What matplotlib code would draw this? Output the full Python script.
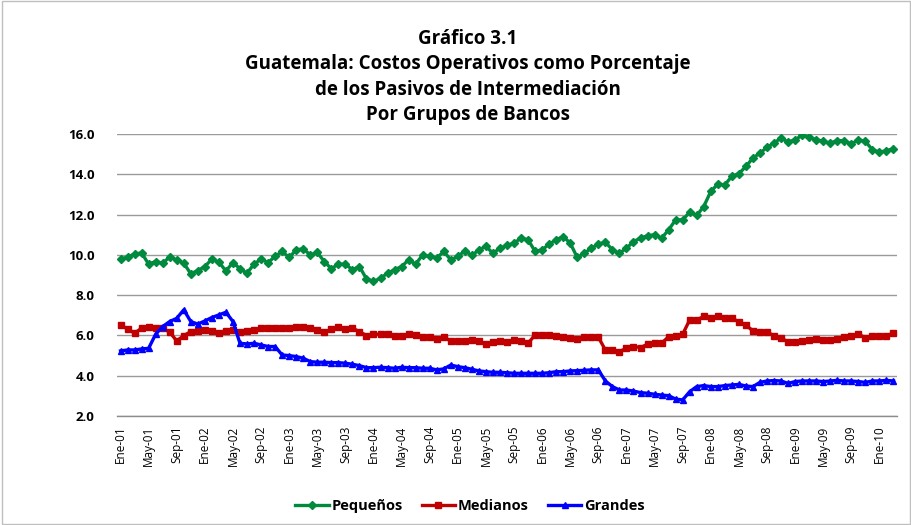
import matplotlib
matplotlib.use("Agg")
import matplotlib.pyplot as plt
from matplotlib.patches import Rectangle

plt.rcParams['font.family'] = ['Open Sans', 'DejaVu Sans']

# ---- data ----
meses = ["Ene", "Feb", "Mar", "Abr", "May", "Jun", "Jul", "Ago", "Sep", "Oct", "Nov", "Dic"]
years = list(range(1, 11))
n_points = 111  # Ene-01 .. Mar-10
periodos = [f"{meses[m]}-{y:02d}" for y in years for m in range(12)][:n_points]

pequenos = [9.79, 9.89, 10.04, 10.10, 9.54, 9.67, 9.59, 9.89, 9.75, 9.59,
            9.06, 9.22, 9.42, 9.79, 9.64, 9.20, 9.62, 9.31, 9.09, 9.54,
            9.79, 9.62, 9.92, 10.17, 9.87, 10.25, 10.30, 10.00, 10.12, 9.67,
            9.31, 9.54, 9.54, 9.26, 9.42, 8.81, 8.68, 8.84, 9.09, 9.26,
            9.42, 9.75, 9.54, 10.00, 9.92, 9.84, 10.17, 9.75, 9.92, 10.20,
            9.97, 10.25, 10.42, 10.08, 10.33, 10.47, 10.58, 10.83, 10.75, 10.17,
            10.25, 10.53, 10.75, 10.91, 10.58, 9.87, 10.08, 10.33, 10.53, 10.63,
            10.25, 10.08, 10.33, 10.66, 10.83, 10.95, 11.00, 10.83, 11.24, 11.74,
            11.74, 12.12, 11.96, 12.40, 13.15, 13.51, 13.48, 13.90, 14.03, 14.39,
            14.81, 15.05, 15.34, 15.55, 15.80, 15.60, 15.72, 15.93, 15.83, 15.72,
            15.63, 15.55, 15.67, 15.67, 15.50, 15.72, 15.63, 15.22, 15.10, 15.17,
            15.27]

medianos = [6.52, 6.32, 6.11, 6.36, 6.41, 6.39, 6.36, 6.16, 5.73, 5.99,
            6.19, 6.22, 6.27, 6.24, 6.14, 6.22, 6.27, 6.19, 6.22, 6.27,
            6.36, 6.39, 6.39, 6.36, 6.36, 6.44, 6.41, 6.36, 6.27, 6.16,
            6.31, 6.41, 6.31, 6.36, 6.19, 5.99, 6.06, 6.06, 6.06, 5.99,
            5.99, 6.06, 6.03, 5.91, 5.94, 5.83, 5.91, 5.73, 5.73, 5.73,
            5.78, 5.73, 5.58, 5.69, 5.73, 5.66, 5.78, 5.73, 5.61, 6.03,
            6.03, 6.03, 5.99, 5.94, 5.86, 5.81, 5.91, 5.91, 5.91, 5.28,
            5.28, 5.20, 5.36, 5.45, 5.40, 5.56, 5.61, 5.61, 5.94, 5.99,
            6.06, 6.77, 6.77, 6.94, 6.89, 6.94, 6.89, 6.85, 6.68, 6.52,
            6.22, 6.19, 6.16, 5.99, 5.89, 5.66, 5.66, 5.73, 5.78, 5.83,
            5.78, 5.78, 5.83, 5.94, 5.99, 6.06, 5.89, 5.98, 5.99, 5.99,
            6.11]

grandes = [5.23, 5.28, 5.28, 5.33, 5.36, 6.06, 6.44, 6.69, 6.85, 7.27,
           6.69, 6.56, 6.72, 6.89, 7.02, 7.15, 6.69, 5.61, 5.58, 5.61,
           5.53, 5.45, 5.45, 5.03, 5.00, 4.95, 4.87, 4.70, 4.67, 4.67,
           4.65, 4.65, 4.62, 4.57, 4.50, 4.40, 4.40, 4.42, 4.40, 4.37,
           4.42, 4.40, 4.40, 4.37, 4.37, 4.29, 4.34, 4.53, 4.45, 4.40,
           4.32, 4.24, 4.20, 4.17, 4.17, 4.15, 4.12, 4.12, 4.12, 4.12,
           4.12, 4.15, 4.20, 4.20, 4.24, 4.25, 4.27, 4.29, 4.29, 3.74,
           3.46, 3.29, 3.29, 3.24, 3.16, 3.13, 3.08, 3.04, 3.01, 2.84,
           2.80, 3.21, 3.46, 3.51, 3.46, 3.46, 3.51, 3.54, 3.57, 3.49,
           3.46, 3.67, 3.74, 3.76, 3.74, 3.62, 3.71, 3.74, 3.74, 3.74,
           3.71, 3.74, 3.77, 3.74, 3.74, 3.71, 3.67, 3.74, 3.74, 3.77,
           3.74]

y_ticks = [2.0, 4.0, 6.0, 8.0, 10.0, 12.0, 14.0, 16.0]
titulo = "Gráfico 3.1\nGuatemala: Costos Operativos como Porcentaje\nde los Pasivos de Intermediación\nPor Grupos de Bancos"

# ---- figure ----
fig = plt.figure(figsize=(9.12, 5.25), dpi=100)
ax = fig.add_axes([117 / 912, 109 / 525, 780 / 912, 282 / 525])

x = list(range(n_points))
ax.plot(x, pequenos, color='#008A3E', lw=2.4, marker='D', ms=4, label='Pequeños', zorder=3)
ax.plot(x, medianos, color='#C00000', lw=2.4, marker='s', ms=4, label='Medianos', zorder=3)
ax.plot(x, grandes, color='#0000FF', lw=2.4, marker='^', ms=4.5, label='Grandes', zorder=3)

ax.set_xlim(-0.5, n_points - 0.5)
ax.set_ylim(2, 16)
ax.set_yticks(y_ticks)
ax.set_yticklabels([f"{v:.1f}" for v in y_ticks], fontsize=9.5, fontweight='bold')
ax.tick_params(axis='y', length=0, pad=16)

tick_idx = list(range(0, n_points, 4))
ax.set_xticks(tick_idx)
ax.set_xticklabels([periodos[i] for i in tick_idx], rotation=90, fontsize=8.5)
ax.tick_params(axis='x', length=0, pad=7)

ax.grid(axis='y', color='#9a9a9a', lw=1)
ax.set_axisbelow(True)
for s in ['left', 'right', 'top']:
    ax.spines[s].set_visible(False)
ax.spines['bottom'].set_color('#8c8c8c')
ax.spines['bottom'].set_linewidth(1)

fig.text(468 / 912, 1 - 29 / 525, titulo, ha='center', va='top', fontsize=13.5,
         fontweight='bold', linespacing=1.36)

leg = fig.legend(loc='center', bbox_to_anchor=(470 / 912, 1 - 506 / 525), ncol=3,
                 frameon=False, prop={'size': 10.5, 'weight': 'bold'},
                 handlelength=2.3, columnspacing=1.3, handletextpad=0.2)

fig.patches.append(Rectangle((0.002, 0.002), 0.996, 0.996, transform=fig.transFigure,
                             fill=False, edgecolor='#bfbfbf', lw=1))

fig.savefig('out.png', dpi=100)
